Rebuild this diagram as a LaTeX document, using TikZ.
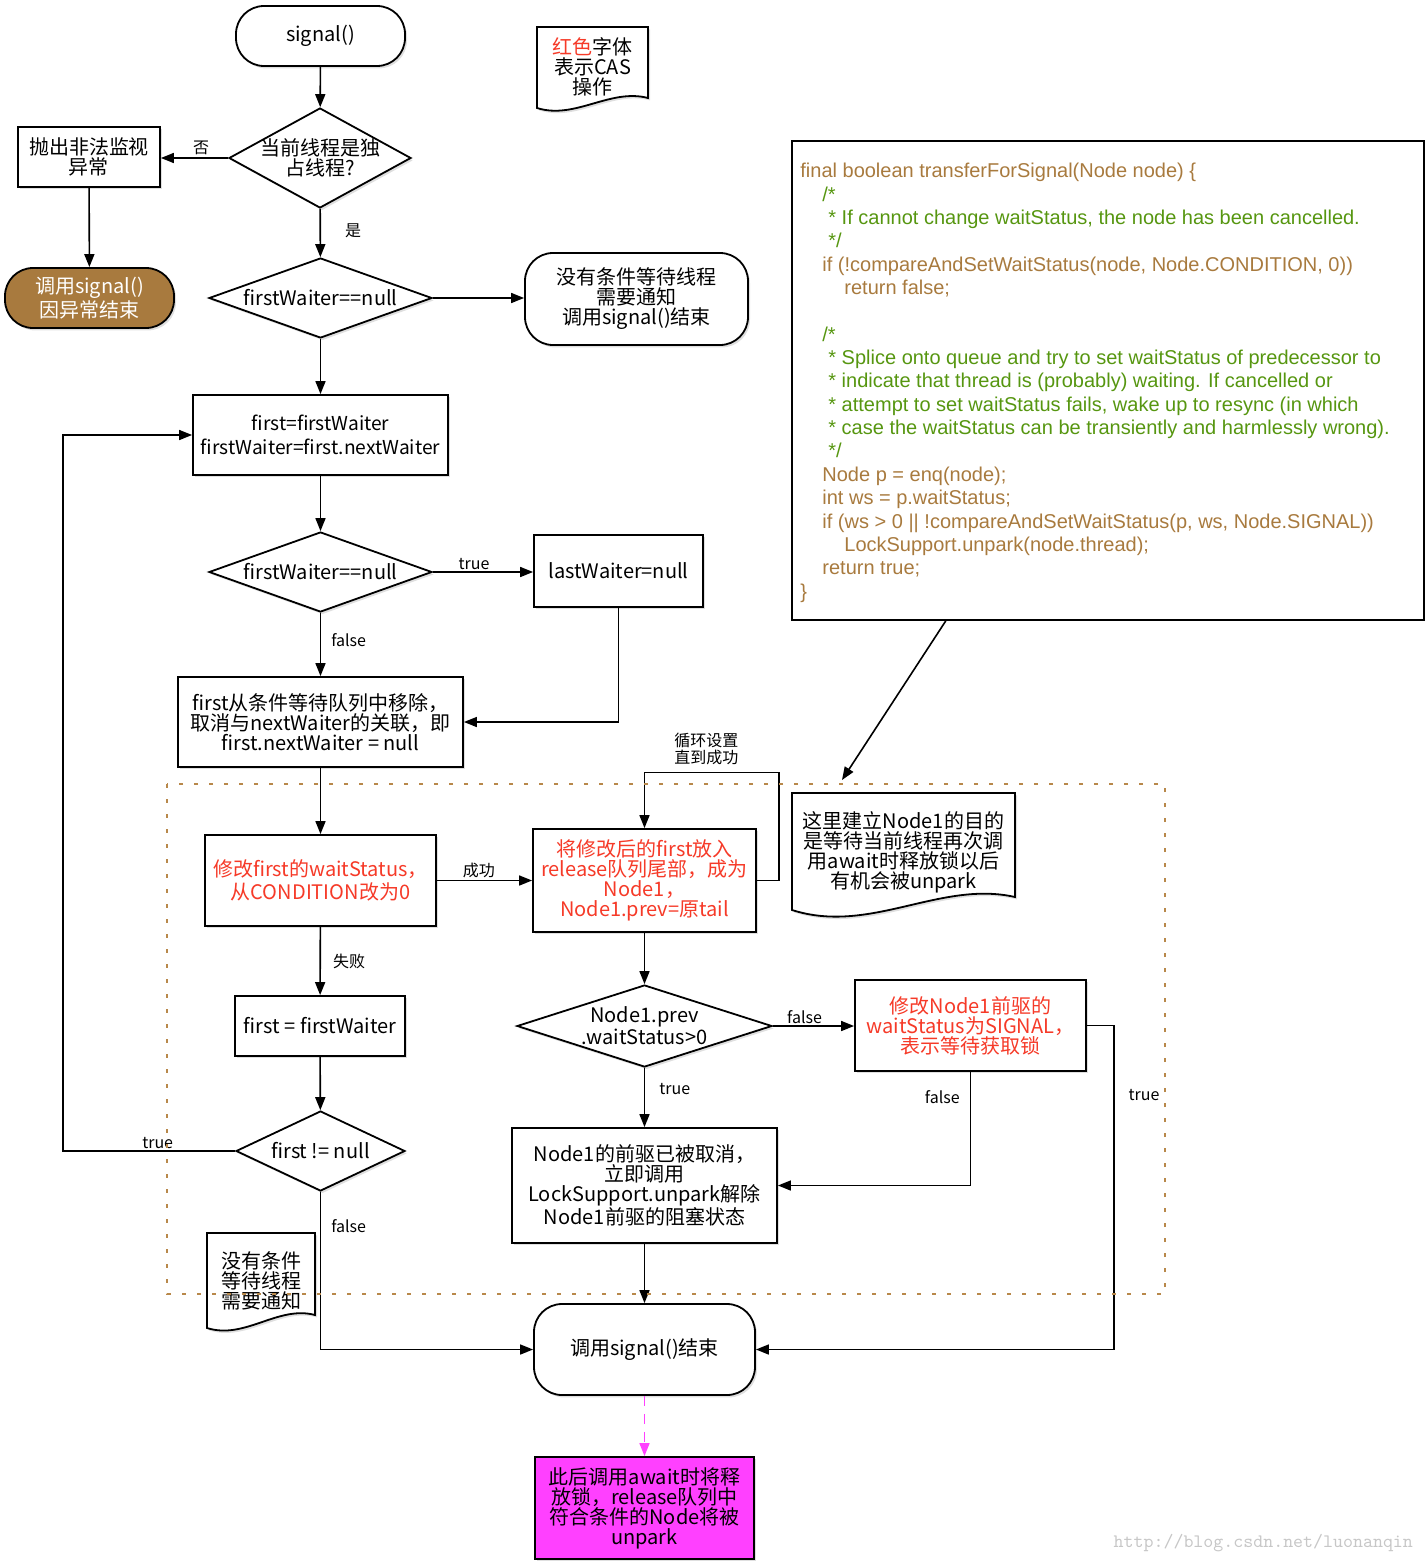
\documentclass[tikz,border=0pt]{standalone}
\usepackage{fontspec}
\setmainfont{Noto Sans CJK SC}
\newfontfamily\codefont{Liberation Sans}
\usetikzlibrary{positioning, arrows.meta, shapes.geometric, calc, shadows}
\definecolor{casred}{RGB}{246,58,40}
\definecolor{excbrown}{RGB}{168,122,62}
\definecolor{codebrown}{RGB}{168,122,62}
\definecolor{codegreen}{RGB}{86,150,16}
\definecolor{laterpink}{RGB}{255,64,255}
\definecolor{zone}{RGB}{184,136,74}

\tikzset{
  sz/.style 2 args={minimum width=#1*0.5pt, minimum height=#2*0.5pt},
  shade/.style={drop shadow={shadow xshift=1pt, shadow yshift=-1.2pt, opacity=0.25}},
  box/.style={draw, line width=0.9pt, fill=white, align=center, inner sep=1pt, shade},
  term/.style={box, rounded corners=14pt},
  dia/.style={draw, diamond, line width=0.9pt, fill=white, inner sep=0pt, shade},
  cas/.style={text=casred},
  conn/.style={line width=0.8pt, -{Triangle[length=6.5pt, width=5pt]}},
  lbl/.style={font=\fontsize{8}{8.5}\selectfont, inner sep=1pt},
  doc/.style={draw, line width=0.9pt, fill=white, shade},
}

\begin{document}
\begin{tikzpicture}[x=0.5pt, y=-0.5pt, font=\fontsize{10}{10}\selectfont]
    \useasboundingbox (0,0) rectangle (1428,1563);

    % Legend note (top)
    \draw[doc] (537,27) -- (648,27) -- (648,98) .. controls (610,88) and (575,120) .. (537,108) -- cycle;
    \node[align=center] (legend) at (592.5,67) {\textcolor{casred}{红色}字体\\表示CAS\\操作};

    % Main flow
    \node[term, sz={169}{60}] (signal) at (320.5,36) {signal()};
    \node[dia, sz={182}{100}, label={[align=center]center:{当前线程是独\\占线程?}}] (owner) at (320,158) {};
    \node[box, sz={142}{60}] (illegal) at (89,157) {抛出非法监视\\异常};
    \node[term, sz={169}{60}, fill=excbrown, text=white] (excend) at (89.5,298) {调用signal()\\因异常结束};
    \node[dia, sz={223}{80}, label={center:{firstWaiter==null}}] (empty) at (320.5,298) {};
    \node[term, sz={223}{92}] (nothing) at (636.5,299) {没有条件等待线程\\需要通知\\调用signal()结束};
    \node[box, sz={255}{80}, font=\fontsize{9.6}{12}\selectfont] (take) at (320.5,435) {first=firstWaiter\\firstWaiter=first.nextWaiter};
    \node[dia, sz={223}{80}, label={center:{firstWaiter==null}}] (isempty) at (320.5,572) {};
    \node[box, sz={169}{72}] (lastnull) at (618.5,571) {lastWaiter=null};
    \node[box, sz={285}{90}] (unlink) at (320.5,722) {first从条件等待队列中移除，\\取消与nextWaiter的关联，即\\first.nextWaiter = null};

    % Transfer part (inside the dotted zone)
    \node[box, cas, sz={231}{91}, font=\fontsize{10}{11.5}\selectfont] (casws) at (320.5,880.5) {修改first的waitStatus，\\从CONDITION改为0};
    \node[box, cas, sz={223}{103}] (enq) at (644.5,880.5) {将修改后的first放入\\release队列尾部，成为\\Node1，\\Node1.prev=原tail};
    \node[box, sz={170}{60}] (again) at (320,1026) {first = firstWaiter};
    \node[dia, sz={169}{80}, label={center:{first != null}}] (notnull) at (320.5,1151) {};
    \node[dia, sz={255}{82}, label={[align=center]center:{Node1.prev\\.waitStatus>0}}] (prevws) at (644.5,1026) {};
    \node[box, cas, sz={231}{91}] (setsig) at (970.5,1025.5) {修改Node1前驱的\\waitStatus为SIGNAL，\\表示等待获取锁};
    \node[box, sz={265}{115}] (wake) at (644.5,1185.5) {Node1的前驱已被取消，\\立即调用\\LockSupport.unpark解除\\Node1前驱的阻塞状态};
    \node[term, sz={221}{91}] (done) at (644.5,1349.5) {调用signal()结束};
    \node[box, sz={219}{102}, fill=laterpink] (later) at (644.5,1508) {此后调用await时将释\\放锁，release队列中\\符合条件的Node将被\\unpark};

    % Notes
    \draw[doc] (792,793) -- (1015,793) -- (1015,897) .. controls (940,880) and (870,935) .. (792,910) -- cycle;
    \node[align=center] (purpose) at (903.5,852) {这里建立Node1的目的\\是等待当前线程再次调\\用await时释放锁以后\\有机会被unpark};
    \draw[doc] (207,1233) -- (315,1233) -- (315,1315) .. controls (278,1305) and (245,1340) .. (207,1328) -- cycle;
    \node[align=center] (nowaiter) at (261,1281) {没有条件\\等待线程\\需要通知};

    % Source code
    \node[draw, line width=0.9pt, sz={632}{479}] (code) at (1108,380.5) {};
    \node[anchor=north west, inner sep=0pt, align=left, text=codebrown,
          font=\codefont\fontsize{10}{11.67}\selectfont] (codetext) at (800,163) {%
      final boolean transferForSignal(Node node) \{\\
      \hspace*{11pt}\textcolor{codegreen}{/*}\\
      \hspace*{14pt}\textcolor{codegreen}{* If cannot change waitStatus, the node has been cancelled.}\\
      \hspace*{14pt}\textcolor{codegreen}{*/}\\
      \hspace*{11pt}if (!compareAndSetWaitStatus(node, Node.CONDITION, 0))\\
      \hspace*{22pt}return false;\\
      \mbox{}\\
      \hspace*{11pt}\textcolor{codegreen}{/*}\\
      \hspace*{14pt}\textcolor{codegreen}{* Splice onto queue and try to set waitStatus of predecessor to}\\
      \hspace*{14pt}\textcolor{codegreen}{* indicate that thread is (probably) waiting. If cancelled or}\\
      \hspace*{14pt}\textcolor{codegreen}{* attempt to set waitStatus fails, wake up to resync (in which}\\
      \hspace*{14pt}\textcolor{codegreen}{* case the waitStatus can be transiently and harmlessly wrong).}\\
      \hspace*{14pt}\textcolor{codegreen}{*/}\\
      \hspace*{11pt}Node p = enq(node);\\
      \hspace*{11pt}int ws = p.waitStatus;\\
      \hspace*{11pt}if (ws > 0 || !compareAndSetWaitStatus(p, ws, Node.SIGNAL))\\
      \hspace*{22pt}LockSupport.unpark(node.thread);\\
      \hspace*{11pt}return true;\\
      \}};
    \coordinate (zonetip) at (842,780);

    % Connectors
    \draw[conn] (signal) -- (owner);
    \draw[conn] (owner.west) -- node[lbl, above, pos=0.4] {否} (owner.west -| illegal.east);
    \draw[conn] (illegal) -- (excend);
    \draw[conn] (owner) -- node[lbl, right=11pt, pos=0.46] {是} (empty);
    \draw[conn] (empty.east) -- (empty.east -| nothing.west);
    \draw[conn] (empty) -- (take);
    \draw[conn] (take) -- (isempty);
    \draw[conn] (isempty.east) -- node[lbl, above, pos=0.41] {true} (isempty.east -| lastnull.west);
    \draw[conn] (isempty) -- node[lbl, right=4pt, pos=0.43] {false} (unlink);
    \draw[conn] (lastnull.south) |- (unlink.east);
    \draw[conn] (unlink) -- (casws);
    \draw[conn] (casws) -- node[lbl, above, pos=0.44] {成功} (enq);
    \draw[conn] (enq.east) -- ++(22,0) -- ++(0,-108) -| node[lbl, above, pos=0.27, yshift=2.5pt, align=center] {循环设置\\直到成功} (enq.north);
    \draw[conn] (casws) -- node[lbl, right=5pt, pos=0.5] {失败} (again);
    \draw[conn] (again) -- (notnull);
    \draw[conn] (notnull.west) -- node[lbl, above, pos=0.45] {true} ++(-172,0) |- (take.west);
    \draw[conn] (notnull.south) |- node[lbl, right=4pt, pos=0.11] {false} (done.west);
    \draw[conn] (enq) -- (prevws);
    \draw[conn] (prevws.east) -- node[lbl, above, pos=0.39] {false} (prevws.east -| setsig.west);
    \draw[conn] (prevws) -- node[lbl, right=6pt, pos=0.36] {true} (wake);
    \draw[conn] (setsig.south) |- node[lbl, left=4pt, pos=0.11] {false} (wake.east);
    \draw[conn] (setsig.east) -- ++(27,0) |- node[lbl, right=6pt, pos=0.108] {true} (done.east);
    \draw[conn] (wake) -- (done);
    \draw[conn, laterpink, dash pattern=on 5pt off 4pt] (done) -- (later);
    \draw[conn] ($(code.south west)!0.244!(code.south east)$) -- (zonetip);

    % Dotted zone
    \draw[zone, line width=1.3pt, dash pattern=on 2pt off 5.5pt] (167,784) rectangle (1165,1294);

    % Watermark
    \node[anchor=east, text=black!22, font=\ttfamily\fontsize{9.5}{10}\selectfont] (mark) at (1420,1543) {http://blog.csdn.net/luonanqin};
\end{tikzpicture}
\end{document}
